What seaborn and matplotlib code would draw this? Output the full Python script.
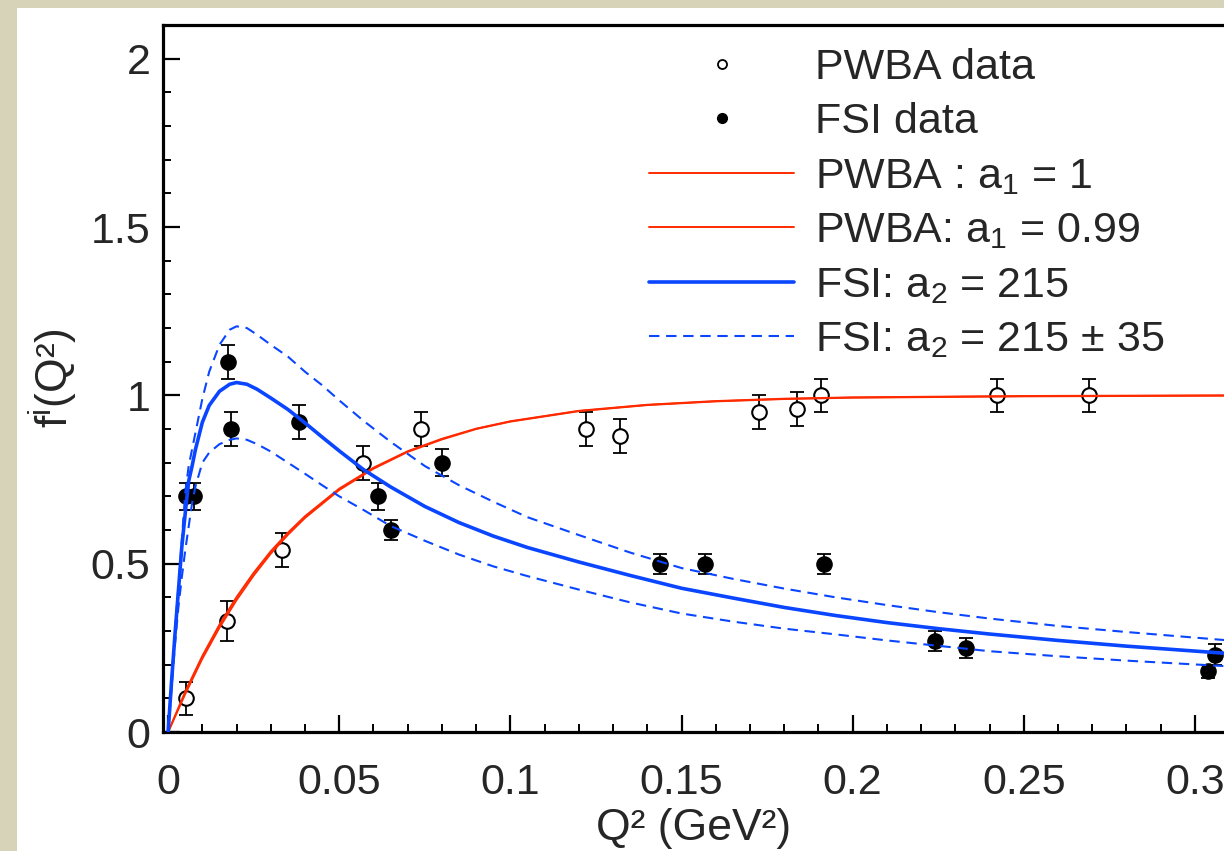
import matplotlib
matplotlib.use("Agg")
import matplotlib.pyplot as plt
import seaborn as sns
from matplotlib.patches import Rectangle
from matplotlib.lines import Line2D
from matplotlib.ticker import MultipleLocator, FuncFormatter

# ---------------- data ----------------
pwba_q2 = [0.0052, 0.0172, 0.0332, 0.057, 0.074, 0.122, 0.132, 0.1726, 0.1837, 0.1907, 0.2423, 0.269]
pwba_f = [0.10, 0.33, 0.54, 0.80, 0.90, 0.90, 0.88, 0.95, 0.96, 1.00, 1.00, 1.00]
pwba_err = [0.05, 0.06, 0.05, 0.05, 0.05, 0.05, 0.05, 0.05, 0.05, 0.05, 0.05, 0.05]

fsi_q2 = [0.0052, 0.0076, 0.0175, 0.0184, 0.0382, 0.0612, 0.065, 0.080, 0.1437, 0.157, 0.1915, 0.224, 0.233, 0.3038, 0.306]
fsi_f = [0.70, 0.70, 1.10, 0.90, 0.92, 0.70, 0.60, 0.80, 0.50, 0.50, 0.50, 0.27, 0.25, 0.18, 0.23]
fsi_err = [0.04, 0.04, 0.05, 0.05, 0.05, 0.04, 0.03, 0.04, 0.03, 0.03, 0.03, 0.03, 0.03, 0.02, 0.03]

pwba_curve_q2 = [0.0, 0.005, 0.01, 0.015, 0.02, 0.025, 0.03, 0.035, 0.04, 0.05, 0.06, 0.07,
                 0.08, 0.09, 0.10, 0.12, 0.14, 0.16, 0.18, 0.20, 0.25, 0.31]
pwba_curve_a1 = [0.0, 0.120, 0.226, 0.319, 0.401, 0.473, 0.537, 0.592, 0.641, 0.723, 0.785, 0.834,
                 0.871, 0.901, 0.923, 0.954, 0.972, 0.983, 0.990, 0.994, 0.998, 1.0]
pwba_curve_a099 = [0.0, 0.113, 0.218, 0.310, 0.392, 0.465, 0.530, 0.586, 0.636, 0.719, 0.782, 0.832,
                   0.869, 0.900, 0.922, 0.953, 0.971, 0.982, 0.989, 0.993, 0.997, 0.999]

fsi_curve_q2 = [0.0, 0.001, 0.002, 0.003, 0.004, 0.005, 0.006, 0.007, 0.008, 0.010, 0.012, 0.015,
                0.018, 0.020, 0.023, 0.026, 0.030, 0.035, 0.040, 0.045, 0.050, 0.057, 0.065, 0.075,
                0.085, 0.095, 0.105, 0.12, 0.135, 0.15, 0.165, 0.18, 0.195, 0.21, 0.225, 0.24,
                0.26, 0.28, 0.31]
fsi_curve = [0.0, 0.15, 0.29, 0.42, 0.55, 0.65, 0.745, 0.79, 0.84, 0.92, 0.97, 1.012,
             1.033, 1.038, 1.033, 1.018, 0.992, 0.958, 0.918, 0.876, 0.835, 0.78, 0.728, 0.670,
             0.622, 0.582, 0.548, 0.505, 0.465, 0.427, 0.398, 0.370, 0.346, 0.325, 0.307, 0.291,
             0.272, 0.255, 0.233]
fsi_curve_hi = [0.0, 0.15, 0.30, 0.43, 0.57, 0.71, 0.79, 0.84, 0.89, 0.99, 1.07, 1.15,
                1.195, 1.205, 1.20, 1.18, 1.15, 1.115, 1.07, 1.03, 0.985, 0.925, 0.862, 0.79,
                0.733, 0.684, 0.638, 0.585, 0.533, 0.487, 0.455, 0.426, 0.40, 0.377, 0.356, 0.337,
                0.315, 0.297, 0.272]
fsi_curve_lo = [0.0, 0.13, 0.26, 0.37, 0.46, 0.54, 0.61, 0.68, 0.73, 0.80, 0.83, 0.855,
                0.868, 0.872, 0.868, 0.855, 0.833, 0.80, 0.767, 0.733, 0.70, 0.66, 0.612, 0.568,
                0.527, 0.492, 0.463, 0.423, 0.385, 0.352, 0.328, 0.307, 0.29, 0.272, 0.256, 0.24,
                0.225, 0.212, 0.195]

legend_labels = ["PWBA data", "FSI data",
                 r"PWBA : $\mathregular{a_{1}}$ = 1",
                 r"PWBA: $\mathregular{a_{1}}$ = 0.99",
                 r"FSI: $\mathregular{a_{2}}$ = 215",
                 r"FSI: $\mathregular{a_{2}}$ = 215 ± 35"]

# ---------------- style ----------------
sns.set_style("ticks")
plt.rcParams['font.family'] = ['Liberation Sans', 'DejaVu Sans']
plt.rcParams['mathtext.fontset'] = 'custom'
plt.rcParams['mathtext.rm'] = 'Liberation Sans'
plt.rcParams['mathtext.it'] = 'Liberation Sans:italic'

RED = '#ff2a00'
BLUE = '#0a46ff'
W, H = 1224, 851

fig = plt.figure(figsize=(W / 100, H / 100), dpi=100)
fig.patch.set_facecolor('#d6d3b8')
fig.add_artist(Rectangle((17 / W, 0), 1, 1 - 8 / H, transform=fig.transFigure,
                         facecolor='white', edgecolor='none', zorder=-5))

ax = fig.add_axes([163 / W, 1 - 732 / H, 1 - 163 / W, (732 - 25) / H])
ax.set_facecolor('white')

# error bars and markers (drawn under the curves)
ax.errorbar(pwba_q2, pwba_f, yerr=pwba_err, fmt='none', ecolor='black',
            elinewidth=1.3, capsize=5, capthick=1.3, zorder=2)
ax.errorbar(fsi_q2, fsi_f, yerr=fsi_err, fmt='none', ecolor='black',
            elinewidth=1.3, capsize=5, capthick=1.3, zorder=2)
sns.scatterplot(x=pwba_q2, y=pwba_f, ax=ax, marker='o', s=110, facecolor='white',
                edgecolor='black', linewidth=1.5, zorder=3, legend=False)
sns.scatterplot(x=fsi_q2, y=fsi_f, ax=ax, marker='o', s=120, color='black',
                edgecolor='black', linewidth=1.0, zorder=3, legend=False)

# curves
sns.lineplot(x=pwba_curve_q2, y=pwba_curve_a1, ax=ax, color=RED, lw=1.4,
             sort=False, estimator=None, zorder=4)
sns.lineplot(x=pwba_curve_q2, y=pwba_curve_a099, ax=ax, color=RED, lw=1.4,
             sort=False, estimator=None, zorder=4)
sns.lineplot(x=fsi_curve_q2, y=fsi_curve, ax=ax, color=BLUE, lw=2.6,
             sort=False, estimator=None, zorder=4)
sns.lineplot(x=fsi_curve_q2, y=fsi_curve_hi, ax=ax, color=BLUE, lw=1.5,
             linestyle=(0, (5, 3.2)), sort=False, estimator=None, zorder=4)
sns.lineplot(x=fsi_curve_q2, y=fsi_curve_lo, ax=ax, color=BLUE, lw=1.5,
             linestyle=(0, (5, 3.2)), sort=False, estimator=None, zorder=4)

ax.set_xlim(-0.0015, 0.3085)
ax.set_ylim(0, 2.1)

ax.xaxis.set_major_locator(MultipleLocator(0.05))
ax.xaxis.set_minor_locator(MultipleLocator(0.01))
ax.yaxis.set_major_locator(MultipleLocator(0.5))
ax.yaxis.set_minor_locator(MultipleLocator(0.1))
fmt = FuncFormatter(lambda v, p: ('%g' % round(v, 4)))
ax.xaxis.set_major_formatter(fmt)
ax.yaxis.set_major_formatter(fmt)

ax.tick_params(which='both', direction='in', top=False, right=False, color='black')
ax.tick_params(which='major', length=12, width=1.6, labelsize=31)
ax.tick_params(which='minor', length=6, width=1.4)
ax.tick_params(axis='x', which='major', pad=22)
ax.tick_params(axis='y', which='major', pad=9)

for side in ['left', 'bottom', 'top']:
    ax.spines[side].set_visible(True)
    ax.spines[side].set_linewidth(2.3)
    ax.spines[side].set_color('black')
ax.spines['right'].set_visible(False)

ax.set_xlabel('Q² (GeV²)', fontsize=32, labelpad=4)
ax.set_ylabel(r'$\mathregular{f^{i}}$(Q²)', fontsize=32, labelpad=8)

handles = [
    Line2D([], [], linestyle='none', marker='o', markersize=6.5, markerfacecolor='white',
           markeredgecolor='black', markeredgewidth=1.3),
    Line2D([], [], linestyle='none', marker='o', markersize=7, color='black'),
    Line2D([], [], color=RED, lw=1.4),
    Line2D([], [], color=RED, lw=1.4),
    Line2D([], [], color=BLUE, lw=2.6),
    Line2D([], [], color=BLUE, lw=1.5, linestyle=(0, (5, 3.2))),
]
leg = ax.legend(handles, legend_labels, loc='upper left',
                bbox_to_anchor=(649 / W, 1 - 48 / H), bbox_transform=fig.transFigure,
                frameon=False, fontsize=31, handlelength=3.37, handletextpad=0.49,
                labelspacing=0.335, borderpad=0, borderaxespad=0)

fig.savefig('out.png', dpi=100, facecolor=fig.get_facecolor())
